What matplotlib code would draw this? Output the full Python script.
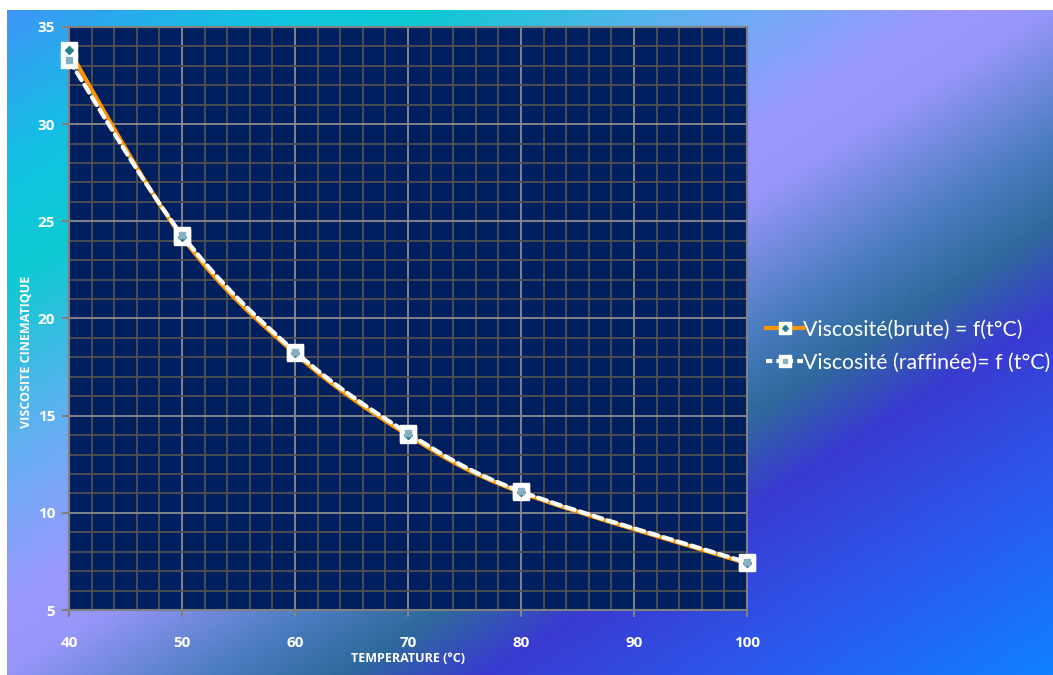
import numpy as np
import matplotlib
matplotlib.use("Agg")
import matplotlib.pyplot as plt
from matplotlib.colors import LinearSegmentedColormap
from matplotlib.path import Path
from matplotlib.patches import PathPatch
from matplotlib.lines import Line2D

# data
temperature = [40, 50, 60, 70, 80, 100]
visc_brute = [33.8, 24.2, 18.2, 14.0, 11.05, 7.4]
visc_raffinee = [33.3, 24.3, 18.3, 14.1, 11.1, 7.45]

x_ticks = [40, 50, 60, 70, 80, 90, 100]
y_ticks = [5, 10, 15, 20, 25, 30, 35]

label_brute = "Viscosité(brute) = f(t°C)"
label_raff = "Viscosité (raffinée)= f (t°C)"

NAVY = "#001f5e"
ORANGE = "#ff9400"
plt.rcParams["font.family"] = ["Lato", "DejaVu Sans"]
BOLD = ["Open Sans", "DejaVu Sans"]


def smooth_path(xs, ys):
    # Catmull-Rom style smoothing, as Excel does, drawn as bezier segments
    xs = np.asarray(xs, float)
    ys = np.asarray(ys, float)
    n = len(xs)
    verts = [(xs[0], ys[0])]
    codes = [Path.MOVETO]
    for i in range(n - 1):
        i0 = max(i - 1, 0)
        i3 = min(i + 2, n - 1)
        c1 = (xs[i] + (xs[i + 1] - xs[i0]) / 6, ys[i] + (ys[i + 1] - ys[i0]) / 6)
        c2 = (xs[i + 1] - (xs[i3] - xs[i]) / 6, ys[i + 1] - (ys[i3] - ys[i]) / 6)
        verts += [c1, c2, (xs[i + 1], ys[i + 1])]
        codes += [Path.CURVE4] * 3
    return Path(verts, codes)


fig = plt.figure(figsize=(10.53, 6.75), dpi=100)
fig.patch.set_facecolor("white")

# gradient background
bg = fig.add_axes([7 / 1053, 0, 1046 / 1053, 665 / 675])
bg.set_axis_off()
stops = [(0.0, "#3d96f6"), (0.12, "#12c2e2"), (0.2, "#0ccad2"),
         (0.33, "#62b0f2"), (0.45, "#9c98ff"), (0.5, "#9696f8"),
         (0.6, "#4a7cc0"), (0.66, "#2f6a9c"), (0.73, "#3a3ad2"),
         (0.86, "#2a5aee"), (1.0, "#1080ff")]
cmap = LinearSegmentedColormap.from_list("bg", stops)
gx, gy = np.meshgrid(np.linspace(0, 1, 400), np.linspace(0, 1, 260))
bg.imshow((gx + gy) / 2, cmap=cmap, aspect="auto", extent=[0, 1, 1, 0],
          interpolation="bilinear")
bg.set_xlim(0, 1)
bg.set_ylim(1, 0)

ax = fig.add_axes([69 / 1053, 65 / 675, 678 / 1053, 583 / 675])
ax.set_facecolor(NAVY)
ax.set_xlim(40, 100)
ax.set_ylim(5, 35)
ax.set_xticks(np.arange(40, 101, 2), minor=True)
ax.set_yticks(np.arange(5, 36, 1), minor=True)
ax.set_xticks(x_ticks, labels=[str(v) for v in x_ticks], fontweight="bold",
              fontsize=11, color="white", family=BOLD)
ax.set_yticks(y_ticks, labels=[str(v) for v in y_ticks], fontweight="bold",
              fontsize=11, color="white", family=BOLD)
ax.grid(which="minor", color="#505050", linewidth=1.3)
ax.grid(which="major", color="#8c8c8c", linewidth=1.3)
ax.set_axisbelow(True)
for s in ax.spines.values():
    s.set_color("#808080")
    s.set_linewidth(1.5)
ax.tick_params(which="major", direction="out", length=5, width=1.5,
               color="#808080", pad=5)
ax.tick_params(which="minor", length=0)
ax.tick_params(axis="x", pad=14)

ax.add_patch(PathPatch(smooth_path(temperature, visc_brute), fill=False,
                       edgecolor=ORANGE, linewidth=3, zorder=3))
ax.add_patch(PathPatch(smooth_path(temperature, visc_raffinee), fill=False,
                       edgecolor="white", linewidth=3, linestyle=(0, (2.2, 1.3)),
                       capstyle="round", zorder=4))

# markers: white boxes with small inner symbols
for xs, ys, inner, col in [(temperature, visc_brute, "D", "#2d7f8f"),
                           (temperature, visc_raffinee, "s", "#8ab0c0")]:
    ax.plot(xs, ys, linestyle="none", marker="s", markersize=12,
            markerfacecolor="white", markeredgecolor="white", zorder=5,
            clip_on=False)
    ax.plot(xs, ys, linestyle="none", marker=inner, markersize=4,
            markerfacecolor=col, markeredgecolor=col, zorder=6, clip_on=False)

fig.text(408 / 1053, 1 - 659 / 675, "TEMPERATURE (°C)", color="white",
         fontsize=9, fontweight="bold", ha="center", va="center", family=BOLD)
fig.text(27 / 1053, 1 - 352 / 675, "VISCOSITE CINEMATIQUE", color="white",
         fontsize=9, fontweight="bold", ha="center", va="center",
         rotation=90, family=BOLD)

h1 = Line2D([], [], color=ORANGE, linewidth=3, marker="s", markersize=8,
            markerfacecolor="white", markeredgecolor="white")
h1i = Line2D([], [], linestyle="none", marker="D", markersize=3,
             markerfacecolor="#2d7f8f", markeredgecolor="#2d7f8f")
h2 = Line2D([], [], color="white", linewidth=3, linestyle=(0, (1.5, 1)),
            marker="s", markersize=8, markerfacecolor="white",
            markeredgecolor="white")
h2i = Line2D([], [], linestyle="none", marker="s", markersize=3,
             markerfacecolor="#8ab0c0", markeredgecolor="#8ab0c0")
leg = fig.legend([(h1, h1i), (h2, h2i)], [label_brute, label_raff],
                 loc="center left", bbox_to_anchor=(766 / 1053, 1 - 346 / 675),
                 frameon=False, handlelength=1.75, handletextpad=0.0,
                 borderpad=0, borderaxespad=0,
                 labelspacing=0.6, prop={"size": 15.3})
for t in leg.get_texts():
    t.set_color("white")

fig.savefig("out.png", dpi=100)
